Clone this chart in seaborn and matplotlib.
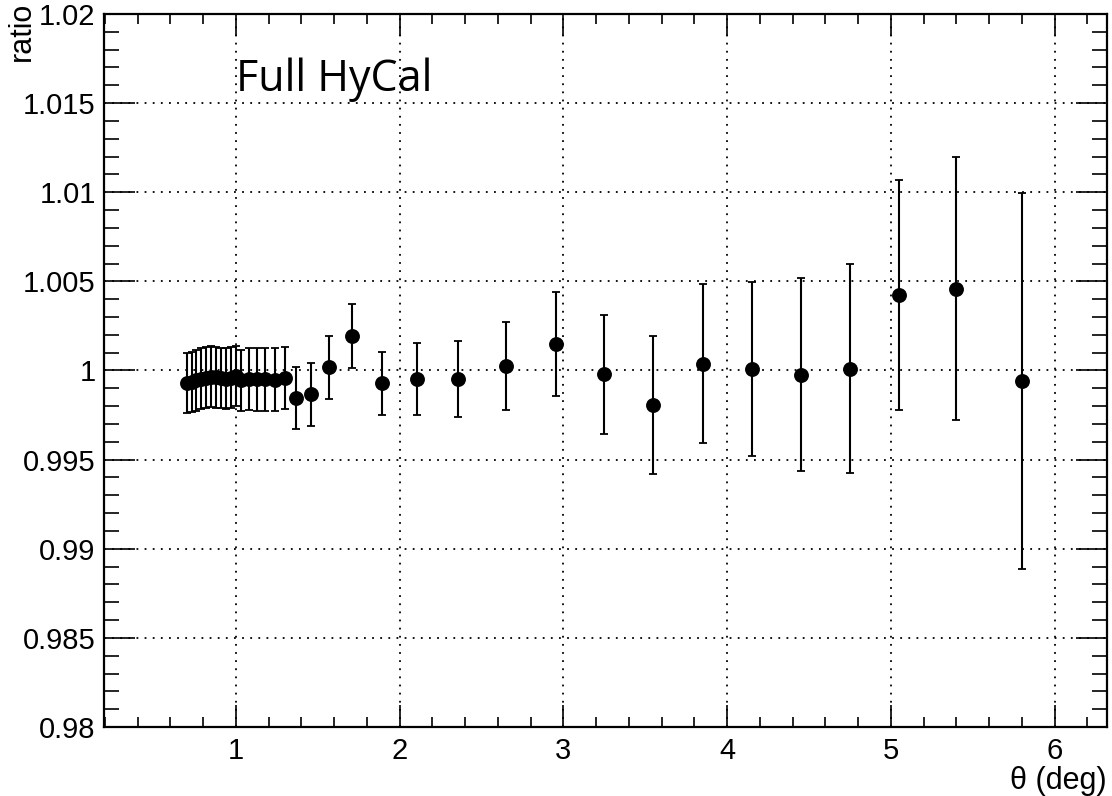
import numpy as np
import pandas as pd
import matplotlib
matplotlib.use("Agg")
import matplotlib.pyplot as plt
from matplotlib.ticker import MultipleLocator, FixedLocator
import seaborn as sns

theta = [0.70, 0.73, 0.76, 0.79, 0.82, 0.85, 0.88, 0.91, 0.94, 0.97, 1.00,
         1.03, 1.08, 1.13, 1.18, 1.24, 1.30, 1.37, 1.46, 1.57, 1.71, 1.895,
         2.105, 2.355, 2.65, 2.955, 3.25, 3.55, 3.85, 4.15, 4.45, 4.75, 5.05,
         5.40, 5.80]
ratio = [0.99932, 0.99935, 0.99945, 0.99955, 0.99960, 0.99965, 0.99962,
         0.99958, 0.99955, 0.99960, 0.99970, 0.99945, 0.99953, 0.99950,
         0.99950, 0.99948, 0.99957, 0.99844, 0.99867, 1.00019, 1.00194,
         0.99929, 0.99953, 0.99953, 1.00026, 1.00150, 0.99978, 0.99807,
         1.00039, 1.00009, 0.99977, 1.00010, 1.00423, 1.00460, 0.99942]
err = [0.00168, 0.00170, 0.00172, 0.00172, 0.00172, 0.00172, 0.00170,
       0.00170, 0.00170, 0.00170, 0.00170, 0.00172, 0.00174, 0.00175,
       0.00175, 0.00176, 0.00175, 0.00174, 0.00176, 0.00177, 0.00180,
       0.00177, 0.00204, 0.00214, 0.00246, 0.00293, 0.00336, 0.00385,
       0.00445, 0.00489, 0.00540, 0.00586, 0.00646, 0.00735, 0.01054]

x_major = [1, 2, 3, 4, 5, 6]
y_major = [0.98, 0.985, 0.99, 0.995, 1.0, 1.005, 1.01, 1.015, 1.02]
y_labels = ["0.98", "0.985", "0.99", "0.995", "1", "1.005", "1.01", "1.015", "1.02"]

df = pd.DataFrame({"theta": theta, "ratio": ratio, "err": err})

sns.set_theme(style="ticks")
plt.rcParams["font.family"] = ["Liberation Sans", "DejaVu Sans"]

fig = plt.figure(figsize=(11.12, 7.96), dpi=100)
ax = fig.add_axes([0.0935, 0.0867, 0.902, 0.8957])

ax.errorbar(df["theta"], df["ratio"], yerr=df["err"], fmt="none",
            ecolor="black", elinewidth=1.5, capsize=3.0, capthick=1.3, zorder=3)
sns.scatterplot(data=df, x="theta", y="ratio", ax=ax, color="black",
                s=115, edgecolor="black", linewidth=0, zorder=4, legend=False)

ax.set_xlim(0.195, 6.32)
ax.set_ylim(0.98, 1.02)

ax.xaxis.set_major_locator(FixedLocator(x_major))
ax.xaxis.set_minor_locator(MultipleLocator(0.2))
ax.set_yticks(y_major)
ax.set_yticklabels(y_labels)
ax.yaxis.set_minor_locator(MultipleLocator(0.001))

ax.grid(True, which="major", color="black", linestyle=(0, (1, 3.5)), linewidth=1.3)
ax.set_axisbelow(True)

ax.tick_params(axis="both", which="both", direction="in", top=True, right=True,
               color="black", labelsize=21, labelcolor="black")
ax.tick_params(axis="y", which="major", length=22, width=1.2, pad=6)
ax.tick_params(axis="y", which="minor", length=11, width=1.2)
ax.tick_params(axis="x", which="major", length=16, width=1.2, pad=7)
ax.tick_params(axis="x", which="minor", length=7, width=1.2)

for sp in ax.spines.values():
    sp.set_color("black")
    sp.set_linewidth(1.6)

ax.set_xlabel("θ (deg)", fontsize=22, loc="right", labelpad=1, color="black")
ax.set_ylabel("")
fig.text(22 / 1112, 1 - 2 / 796, "ratio", fontsize=22, rotation=90,
         ha="center", va="top", color="black")

ax.text(1.0, 1.0157, "Full HyCal", fontsize=31, family=["Open Sans", "DejaVu Sans"],
        ha="left", va="baseline", color="black")

fig.savefig("out.png", dpi=100, facecolor="white")
